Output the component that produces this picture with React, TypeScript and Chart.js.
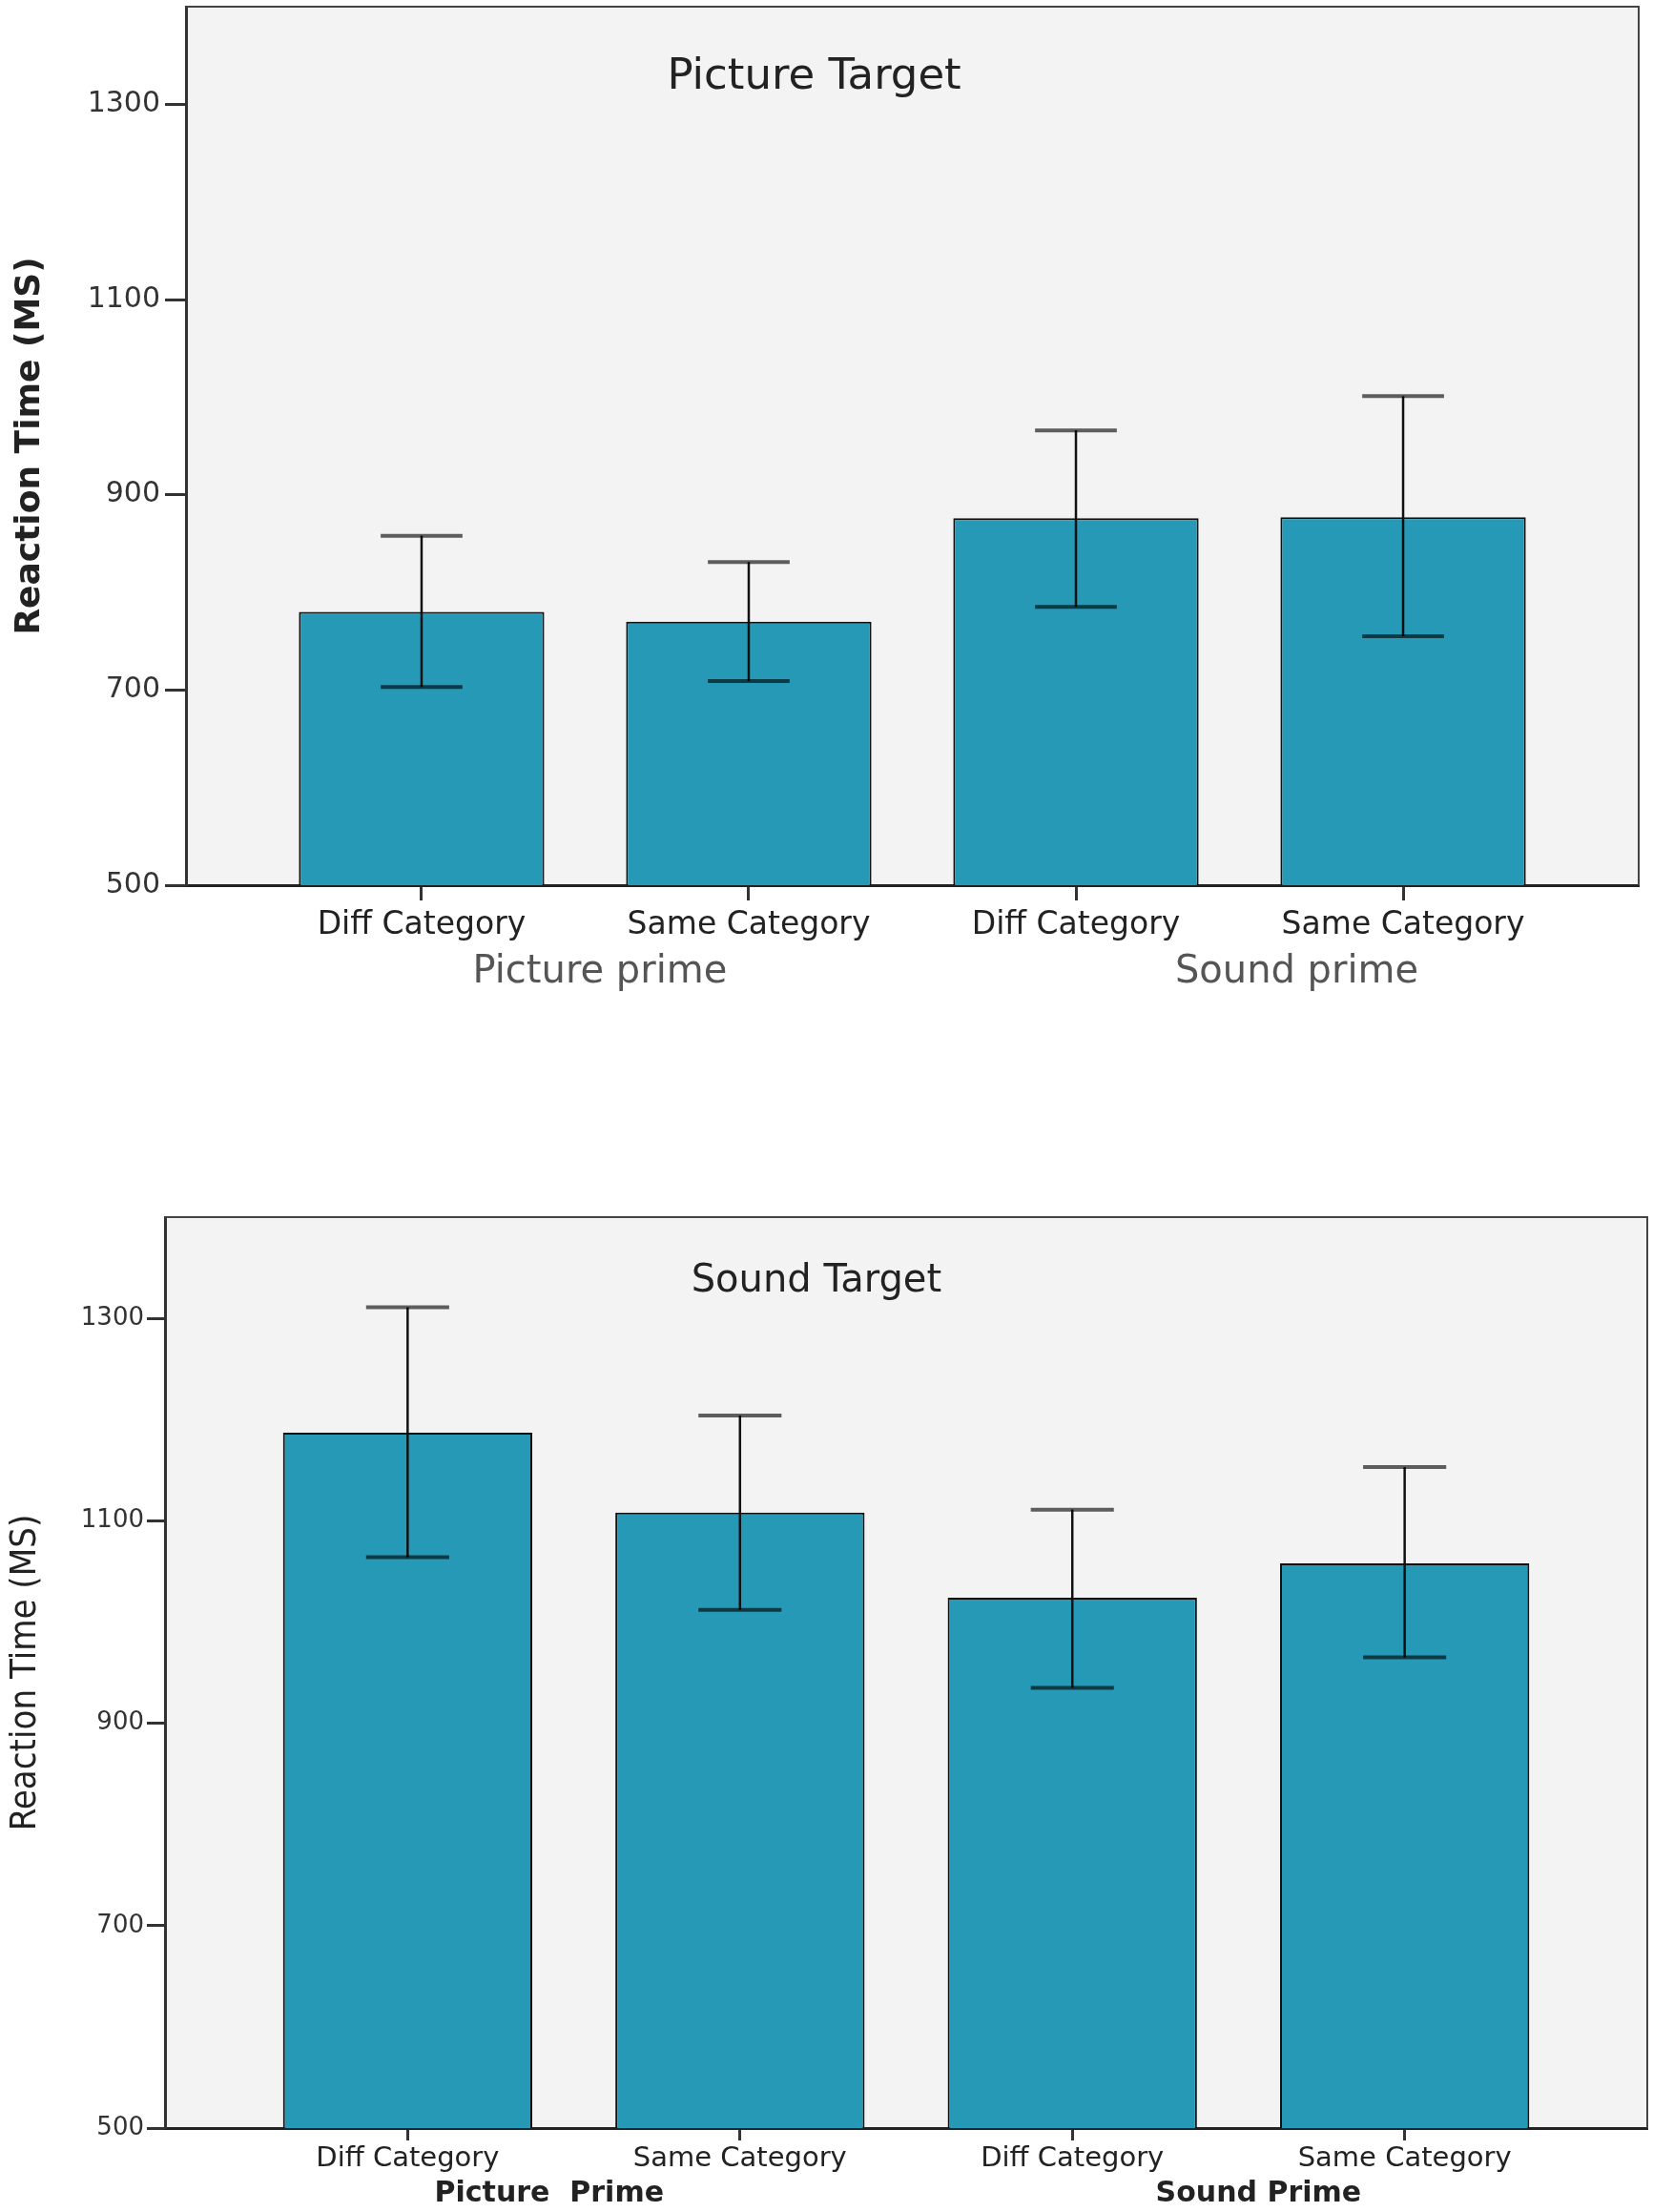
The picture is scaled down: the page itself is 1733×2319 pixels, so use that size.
import { useEffect, useRef } from "react";
import Chart from "chart.js/auto";

const categories = ["Diff Category", "Same Category", "Diff Category", "Same Category"];
const yTicks = [500, 700, 900, 1100, 1300];

// Picture target panel
const pictureGroups = ["Picture prime", "Sound prime"];
const pictureMeans = [780, 770, 876, 877];
const pictureLow = [703, 709, 785, 755];
const pictureHigh = [858, 831, 966, 1001];

// Sound target panel
const soundGroups = ["Picture  Prime", "Sound Prime"];
const soundMeans = [1187, 1108, 1024, 1058];
const soundLow = [1064, 1012, 935, 965];
const soundHigh = [1311, 1204, 1111, 1153];

const barColor = "#2699b7";
const panelColor = "#f3f3f3";

type Style = {
  height: number;
  pad: { top: number; right: number };
  yWidth: number;
  xHeight: number;
  xRange: [number, number];
  yTickFont: number;
  yTickLen: number;
  yTickPad: number;
  xTickFont: number;
  xTickLen: number;
  xTickPad: number;
  yTitleFont: { family: string; size: number; weight: string };
  yTitlePad: number;
  titleFont: string;
  titleAt: number;
  titleDrop: number;
  groupFont: string;
  groupColor: string;
  groupAt: number[];
  groupDrop: number;
};

const sans = '"DejaVu Sans", "Noto Sans", sans-serif';

const pictureStyle: Style = {
  height: 1100,
  pad: { top: 7, right: 15 },
  yWidth: 195,
  xHeight: 172,
  xRange: [-0.72, 3.72],
  yTickFont: 30,
  yTickLen: 22,
  yTickPad: 5,
  xTickFont: 33,
  xTickLen: 16,
  xTickPad: 7,
  yTitleFont: { family: sans, size: 36, weight: "bold" },
  yTitlePad: 10,
  titleFont: `45px ${sans}`,
  titleAt: 1.2,
  titleDrop: 86,
  groupFont: `40px ${sans}`,
  groupColor: "#555",
  groupAt: [0.545, 2.675],
  groupDrop: 102,
};

const soundStyle: Style = {
  height: 1219,
  pad: { top: 176, right: 6 },
  yWidth: 173,
  xHeight: 88,
  xRange: [-0.73, 3.73],
  yTickFont: 26,
  yTickLen: 19,
  yTickPad: 3,
  xTickFont: 29,
  xTickLen: 13,
  xTickPad: 2,
  yTitleFont: {
    family: '"DejaVu Sans Condensed", "Liberation Sans Narrow", "DejaVu Sans", sans-serif',
    size: 38,
    weight: "normal",
  },
  yTitlePad: 4,
  titleFont: `40px ${sans}`,
  titleAt: 1.23,
  titleDrop: 78,
  groupFont: `bold 30px ${sans}`,
  groupColor: "#222",
  groupAt: [0.426, 2.56],
  groupDrop: 77,
};

function BarPanel({
  title,
  groups,
  means,
  low,
  high,
  s,
}: {
  title: string;
  groups: string[];
  means: number[];
  low: number[];
  high: number[];
  s: Style;
}) {
  const canvasRef = useRef<HTMLCanvasElement>(null);

  useEffect(() => {
    const canvas = canvasRef.current;
    if (!canvas) return;

    // Grey panel, error bars, frame and the in-panel labels.
    const decor = {
      id: "decor",
      beforeDraw(chart: Chart) {
        const { ctx, chartArea: a } = chart;
        ctx.save();
        ctx.fillStyle = panelColor;
        ctx.fillRect(a.left, a.top, a.right - a.left, a.bottom - a.top);
        ctx.restore();
      },
      afterDatasetsDraw(chart: Chart) {
        const { ctx } = chart;
        const x = chart.scales.x;
        const y = chart.scales.y;
        const half = (x.getPixelForValue(1) - x.getPixelForValue(0)) * 0.125;
        ctx.save();
        means.forEach((_, i) => {
          const px = x.getPixelForValue(i);
          const top = y.getPixelForValue(high[i]);
          const bottom = y.getPixelForValue(low[i]);
          ctx.strokeStyle = "#111";
          ctx.lineWidth = 2.5;
          ctx.beginPath();
          ctx.moveTo(px, top);
          ctx.lineTo(px, bottom);
          ctx.stroke();
          ctx.strokeStyle = "rgba(0,0,0,0.62)";
          ctx.lineWidth = 4;
          ctx.beginPath();
          ctx.moveTo(px - half, top);
          ctx.lineTo(px + half, top);
          ctx.moveTo(px - half, bottom);
          ctx.lineTo(px + half, bottom);
          ctx.stroke();
        });
        ctx.restore();
      },
      afterDraw(chart: Chart) {
        const { ctx, chartArea: a } = chart;
        const x = chart.scales.x;
        ctx.save();
        ctx.strokeStyle = "#444";
        ctx.lineWidth = 2;
        ctx.beginPath();
        ctx.moveTo(a.left, a.top);
        ctx.lineTo(a.right, a.top);
        ctx.lineTo(a.right, a.bottom);
        ctx.stroke();

        ctx.textAlign = "center";
        ctx.textBaseline = "alphabetic";
        ctx.fillStyle = "#222";
        ctx.font = s.titleFont;
        ctx.fillText(title, x.getPixelForValue(s.titleAt), a.top + s.titleDrop);

        ctx.fillStyle = s.groupColor;
        ctx.font = s.groupFont;
        groups.forEach((g, i) => {
          ctx.fillText(g, x.getPixelForValue(s.groupAt[i]), a.bottom + s.groupDrop);
        });
        ctx.restore();
      },
    };

    const chart = new Chart(canvas.getContext("2d")!, {
      type: "bar",
      data: {
        datasets: [
          {
            data: means.map((v, i) => ({ x: i, y: v })),
            backgroundColor: barColor,
            borderColor: "#111",
            borderWidth: 2,
            borderSkipped: "start",
            barPercentage: 0.75,
            categoryPercentage: 1,
          },
        ],
      },
      options: {
        responsive: false,
        animation: false,
        devicePixelRatio: 1,
        layout: { padding: { top: s.pad.top, right: s.pad.right, left: 0, bottom: 0 } },
        plugins: {
          legend: { display: false },
          tooltip: { enabled: false },
          title: { display: false },
        },
        scales: {
          x: {
            type: "linear",
            offset: false,
            min: s.xRange[0],
            max: s.xRange[1],
            afterBuildTicks: (scale) => {
              scale.ticks = categories.map((_, i) => ({ value: i }));
            },
            afterFit: (scale) => {
              scale.height = s.xHeight;
            },
            ticks: {
              autoSkip: false,
              maxRotation: 0,
              minRotation: 0,
              padding: s.xTickPad,
              color: "#222",
              font: { family: sans, size: s.xTickFont },
              callback: (v) => categories[Number(v)] ?? "",
            },
            grid: {
              offset: false,
              drawOnChartArea: false,
              drawTicks: true,
              tickLength: s.xTickLen,
              tickColor: "#333",
              tickWidth: 3,
            },
            border: { display: true, color: "#222", width: 3 },
          },
          y: {
            min: 500,
            max: 1400,
            afterBuildTicks: (scale) => {
              scale.ticks = yTicks.map((v) => ({ value: v }));
            },
            afterFit: (scale) => {
              scale.width = s.yWidth;
              // no tick label sits on the top edge, so drop the label overhang
              scale.paddingTop = 0;
              scale.paddingBottom = 0;
            },
            ticks: {
              padding: s.yTickPad,
              color: "#333",
              font: { family: sans, size: s.yTickFont },
              callback: (v) => String(v),
            },
            grid: {
              drawOnChartArea: false,
              drawTicks: true,
              tickLength: s.yTickLen,
              tickColor: "#333",
              tickWidth: 3,
            },
            border: { display: true, color: "#333", width: 3 },
            title: {
              display: true,
              text: "Reaction Time (MS)",
              color: "#222",
              font: s.yTitleFont,
              padding: { top: s.yTitlePad, bottom: 0 },
            },
          },
        },
      },
      plugins: [decor],
    });

    return () => chart.destroy();
  }, [title, groups, means, low, high, s]);

  return <canvas ref={canvasRef} width={1733} height={s.height} style={{ display: "block" }} />;
}

export default function App() {
  return (
    <div style={{ position: "absolute", left: 0, top: 0, width: 1733, background: "#fff" }}>
      <BarPanel
        title="Picture Target"
        groups={pictureGroups}
        means={pictureMeans}
        low={pictureLow}
        high={pictureHigh}
        s={pictureStyle}
      />
      <BarPanel
        title="Sound Target"
        groups={soundGroups}
        means={soundMeans}
        low={soundLow}
        high={soundHigh}
        s={soundStyle}
      />
    </div>
  );
}
